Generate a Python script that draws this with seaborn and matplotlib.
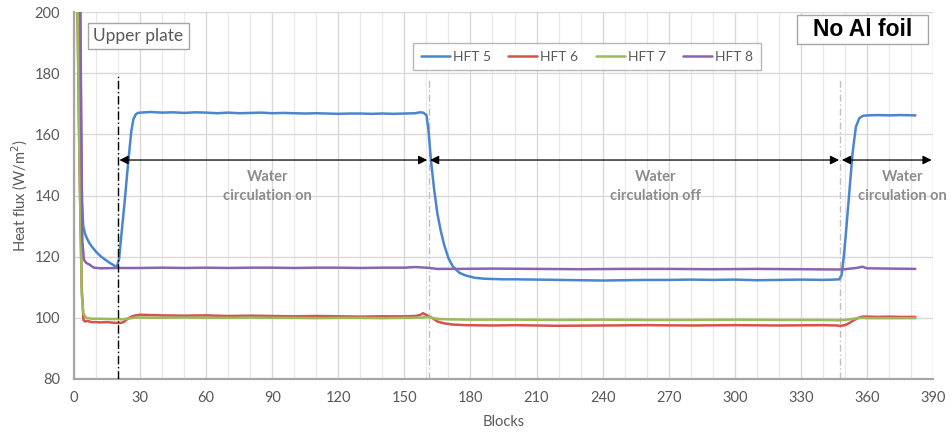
import matplotlib
matplotlib.use("Agg")
import matplotlib.pyplot as plt
from matplotlib.ticker import MultipleLocator
from matplotlib.patches import Rectangle
import seaborn as sns
import pandas as pd

# ---------------- data ----------------
hft5_x = [2.8, 3.2, 3.6, 4.2, 5, 6, 7, 8, 10, 12, 14, 16, 18, 19.5, 20.5, 21.5, 23, 24.5, 26, 27, 28, 29,
          30, 35, 40, 45, 50, 55, 60, 65, 70, 75, 80, 85, 90, 95, 100, 105, 110, 115, 120, 125, 130, 135,
          140, 145, 150, 155, 157, 158.5, 160, 161, 162, 163.5, 165, 166.5, 168, 170, 172, 175, 178, 182,
          186, 190, 195, 200, 210, 220, 230, 240, 250, 260, 270, 280, 290, 300, 310, 320, 330, 340, 345,
          347.5, 348.5, 349.5, 350.5, 352, 353.5, 355, 356.5, 358, 360, 365, 370, 375, 382]
hft5_y = [205, 160, 138, 130, 127.5, 125.8, 124.4, 123.4, 121.6, 120.2, 119.1, 118.1, 117.2, 116.6, 119.5,
          127, 138, 150, 161, 165, 166.5, 167, 167.1, 167.3, 167.1, 167.2, 167.0, 167.2, 167.1, 166.9,
          167.1, 166.9, 167.0, 167.1, 166.9, 167.0, 166.9, 166.8, 166.9, 166.8, 166.7, 166.8, 166.8,
          166.7, 166.8, 166.7, 166.8, 166.9, 167.2, 167.1, 166.3, 161, 152, 142, 134, 128.5, 124, 119.5,
          116.8, 114.7, 113.8, 113.1, 112.8, 112.7, 112.6, 112.6, 112.5, 112.4, 112.3, 112.2, 112.3,
          112.4, 112.4, 112.5, 112.4, 112.5, 112.3, 112.4, 112.5, 112.4, 112.5, 112.6, 114, 120, 128,
          141, 154, 162.5, 165.2, 166, 166.2, 166.3, 166.2, 166.3, 166.2]

hft6_x = [1.5, 2.5, 3.5, 4.3, 5, 6, 8, 10, 12, 15, 18, 21, 22.5, 24, 26, 28, 30, 35, 40, 50, 60, 70, 80,
          90, 100, 110, 120, 130, 140, 150, 155, 157, 158.5, 159.5, 161, 163, 165, 168, 172, 178, 190,
          200, 220, 240, 260, 280, 300, 320, 340, 346, 348, 350, 352, 354, 356, 358, 360, 365, 370, 375, 382]
hft6_y = [205, 150, 110, 99.3, 98.8, 99.0, 98.6, 98.6, 98.5, 98.6, 98.4, 98.3, 98.6, 99.5, 100.4, 100.8,
          101.0, 100.9, 100.8, 100.7, 100.8, 100.6, 100.7, 100.6, 100.5, 100.6, 100.5, 100.4, 100.5,
          100.5, 100.6, 100.9, 101.5, 101.1, 100.6, 99.8, 98.8, 98.2, 97.8, 97.6, 97.5, 97.6, 97.4, 97.5,
          97.6, 97.5, 97.6, 97.5, 97.6, 97.5, 97.4, 97.6, 98.3, 99.2, 100.0, 100.4, 100.4, 100.3, 100.4,
          100.3, 100.3]

hft7_x = [1.5, 2.5, 3.5, 4.2, 5.5, 8, 12, 16, 20, 22, 25, 28, 30, 40, 50, 60, 70, 80, 90, 100, 110, 120,
          130, 140, 150, 158, 161, 163, 166, 170, 180, 200, 220, 240, 260, 280, 300, 320, 340, 347, 350,
          352, 355, 358, 360, 370, 382]
hft7_y = [205, 150, 108, 101.5, 100.0, 99.7, 99.7, 99.6, 99.6, 99.5, 99.8, 100.1, 100.1, 100.0, 100.1,
          100.0, 100.0, 100.1, 100.0, 100.0, 99.9, 100.0, 100.0, 99.9, 100.0, 100.1, 100.3, 99.9, 99.6,
          99.5, 99.4, 99.4, 99.3, 99.4, 99.3, 99.3, 99.4, 99.3, 99.3, 99.2, 99.3, 99.5, 99.8, 100.0, 99.9,
          99.9, 99.9]

hft8_x = [2.8, 3.8, 4.5, 5.5, 7, 9, 12, 20, 30, 40, 50, 60, 70, 80, 90, 100, 110, 120, 130, 140, 150, 155,
          160, 165, 175, 190, 210, 230, 250, 270, 290, 310, 330, 347, 350, 355, 358, 360, 370, 382]
hft8_y = [205, 125, 119, 118, 117.4, 116.4, 116.2, 116.3, 116.3, 116.4, 116.3, 116.4, 116.3, 116.4, 116.4,
          116.3, 116.4, 116.4, 116.3, 116.4, 116.4, 116.6, 116.4, 116.0, 116.0, 116.1, 116.0, 115.9,
          116.0, 116.0, 115.9, 116.0, 115.9, 115.8, 115.9, 116.3, 116.7, 116.2, 116.1, 116.0]

series_names = ["HFT 5", "HFT 6", "HFT 7", "HFT 8"]
series_colors = ["#4a86cf", "#d9504d", "#9bbb59", "#8a64b0"]

events = [20, 161, 348]          # blocks where circulation changes
arrow_level = 151.6
phase_labels = ["Water\ncirculation on", "Water\ncirculation off", "Water\ncirculation on"]
phase_label_x = [88, 264, 376]
phase_label_y = 143

# ---------------- build table ----------------
frames = []
for name, xs, ys in zip(series_names, [hft5_x, hft6_x, hft7_x, hft8_x],
                        [hft5_y, hft6_y, hft7_y, hft8_y]):
    frames.append(pd.DataFrame({"Blocks": xs, "flux": ys, "series": name}))
df = pd.concat(frames, ignore_index=True)

# ---------------- plot ----------------
sns.set_theme(style="white")
plt.rcParams["font.family"] = ["Lato", "DejaVu Sans"]

fig = plt.figure(figsize=(9.52, 4.38), dpi=100)
ax = fig.add_axes([74 / 952, 1 - 379 / 438, (933 - 74) / 952, (379 - 12) / 438])

sns.lineplot(data=df, x="Blocks", y="flux", hue="series", palette=series_colors,
             estimator=None, sort=False, linewidth=1.8, ax=ax, zorder=3)

ax.set_xlim(0, 390)
ax.set_ylim(80, 200)
ax.xaxis.set_major_locator(MultipleLocator(30))
ax.xaxis.set_minor_locator(MultipleLocator(10))
ax.yaxis.set_major_locator(MultipleLocator(20))
ax.grid(which="major", axis="both", color="#d9d9d9", linewidth=1.0, zorder=0)
ax.grid(which="minor", axis="x", color="#e8e8e8", linewidth=0.9, zorder=0)
ax.set_axisbelow(True)

for side in ["top", "right"]:
    ax.spines[side].set_visible(False)
for side in ["left", "bottom"]:
    ax.spines[side].set_color("#a6a6a6")
    ax.spines[side].set_linewidth(1.6)

ax.tick_params(axis="both", which="both", length=0, labelsize=10.5, colors="#595959")
ax.tick_params(axis="x", pad=9)
ax.tick_params(axis="y", pad=10)
ax.set_xlabel("Blocks", fontsize=10.5, color="#595959", labelpad=7)
ax.set_ylabel("Heat flux (W/m$^2$)", fontsize=10.5, color="#595959", labelpad=3)

# event lines
ax.plot([events[0], events[0]], [80, 179.5], color="black", linestyle=(0, (6, 2, 1, 2)),
        linewidth=1.0, zorder=4)
for ev in events[1:]:
    ax.plot([ev, ev], [80, 178], color="#bfbfbf", linestyle=(0, (5, 2, 1, 2)), linewidth=1.0, zorder=2)

# arrows between events
bounds = events + [390]
for a, b in zip(bounds[:-1], bounds[1:]):
    ax.annotate("", xy=(b, arrow_level), xytext=(a, arrow_level),
                arrowprops=dict(arrowstyle="<|-|>", color="black", lw=0.9,
                                shrinkA=1, shrinkB=1, mutation_scale=13),
                annotation_clip=False, zorder=5)

for lab, lx in zip(phase_labels, phase_label_x):
    ax.text(lx, phase_label_y, lab, ha="center", va="center", fontsize=10.5,
            fontweight="bold", color="#8c8c8c", linespacing=1.45, clip_on=False, zorder=6)

# legend
handles, labels = ax.get_legend_handles_labels()
leg = ax.legend(handles, labels, ncol=4, loc="center", bbox_to_anchor=(0.597, 0.878),
                frameon=True, fancybox=False, edgecolor="#a6a6a6", fontsize=10,
                handlelength=2.1, handletextpad=0.2, columnspacing=1.25,
                borderpad=0.55, borderaxespad=0, labelcolor="#595959")
leg.get_frame().set_linewidth(1.0)

# boxes
ax.text(0.0225, 0.934, "Upper plate", transform=ax.transAxes, ha="left", va="center",
        fontsize=12.5, color="#595959",
        bbox=dict(boxstyle="square,pad=0.3", facecolor="white", edgecolor="#a6a6a6", linewidth=1.0),
        zorder=7)
ax.add_patch(Rectangle((0.8417, 0.9128), 0.1525, 0.079, transform=ax.transAxes,
                       facecolor="white", edgecolor="#a6a6a6", linewidth=1.0, zorder=7,
                       clip_on=False))
ax.text(0.918, 0.951, "No Al foil", transform=ax.transAxes, ha="center", va="center",
        fontsize=16.5, fontweight="bold", color="black", zorder=8,
        family=["Liberation Sans", "DejaVu Sans"])

fig.savefig("out.png", dpi=100)
